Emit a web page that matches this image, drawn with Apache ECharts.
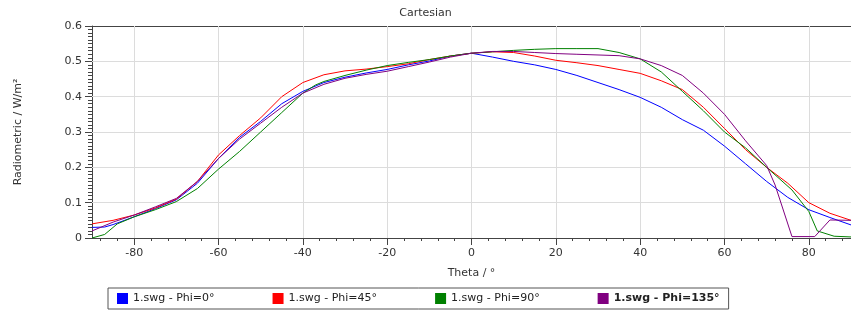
<!DOCTYPE html>
<html>
<head>
<meta charset="utf-8">
<script src="https://cdn.jsdelivr.net/npm/echarts@6/dist/echarts.min.js"></script>
<style>
  html, body { margin: 0; padding: 0; background: #fff; }
  #chart { width: 851px; height: 323px; }
</style>
</head>
<body>
<div id="chart"></div>
<script>
// values, [theta, radiometric]
const phi0 = [[-90,0.03],[-87,0.031],[-85,0.038],[-80,0.06],[-75,0.083],[-70,0.108],[-65,0.155],[-60,0.225],[-55,0.285],[-50,0.33],[-45,0.38],[-40,0.415],[-35,0.44],[-30,0.455],[-25,0.467],[-20,0.477],[-15,0.49],[-10,0.501],[-5,0.515],[0,0.523],[5,0.512],[10,0.5],[15,0.49],[20,0.477],[25,0.46],[30,0.44],[35,0.42],[40,0.398],[45,0.37],[50,0.335],[55,0.305],[60,0.26],[65,0.21],[70,0.16],[75,0.115],[80,0.08],[85,0.058],[90,0.037]];
const phi45 = [[-90,0.04],[-85,0.05],[-80,0.065],[-75,0.085],[-70,0.11],[-65,0.16],[-60,0.235],[-55,0.29],[-50,0.34],[-45,0.4],[-40,0.44],[-35,0.462],[-30,0.473],[-25,0.478],[-20,0.485],[-15,0.493],[-10,0.505],[-5,0.515],[0,0.523],[5,0.527],[10,0.525],[15,0.515],[20,0.503],[25,0.496],[30,0.488],[35,0.477],[40,0.466],[45,0.445],[50,0.42],[55,0.37],[60,0.31],[65,0.25],[70,0.2],[75,0.155],[80,0.1],[85,0.07],[90,0.05]];
const phi90 = [[-90,0],[-87,0.01],[-84,0.04],[-80,0.06],[-75,0.08],[-70,0.103],[-65,0.14],[-60,0.195],[-55,0.245],[-50,0.3],[-45,0.355],[-40,0.41],[-37,0.433],[-35,0.443],[-30,0.46],[-25,0.475],[-20,0.488],[-15,0.497],[-10,0.505],[-5,0.515],[0,0.523],[5,0.527],[10,0.531],[15,0.534],[20,0.536],[25,0.536],[30,0.536],[35,0.525],[40,0.507],[45,0.47],[50,0.415],[55,0.36],[60,0.3],[65,0.255],[70,0.2],[76,0.136],[80,0.075],[82,0.02],[86,0.005],[90,0.003]];
const phi135 = [[-90,0.02],[-85,0.045],[-80,0.065],[-75,0.088],[-70,0.112],[-65,0.16],[-60,0.225],[-55,0.28],[-50,0.325],[-45,0.37],[-40,0.41],[-35,0.435],[-30,0.452],[-25,0.463],[-20,0.472],[-15,0.485],[-10,0.498],[-5,0.512],[0,0.523],[5,0.528],[10,0.528],[15,0.525],[20,0.522],[25,0.52],[30,0.518],[35,0.516],[40,0.507],[45,0.488],[50,0.46],[55,0.41],[60,0.35],[65,0.275],[70,0.205],[72,0.15],[76,0.004],[81.4,0.004],[85,0.051],[90,0.05]];

const seriesNames = ['1.swg - Phi=0°', '1.swg - Phi=45°', '1.swg - Phi=90°', '1.swg - Phi=135°'];
const seriesColors = ['#0000ff', '#ff0000', '#008000', '#800080'];
const xTickLabels = [-80, -60, -40, -20, 0, 20, 40, 60, 80];
const yTickLabels = [0, 0.1, 0.2, 0.3, 0.4, 0.5, 0.6];

// minor ticks on theta, every 4 degrees between the labelled ones
const xMinor = [];
for (let v = -88; v <= 88; v += 4) {
  if (xTickLabels.indexOf(v) < 0) xMinor.push(v);
}

const font = 'DejaVu Sans';
const axisColor = '#444';
const gridColor = '#dcdcdc';
const plotW = 851 - 92, plotH = 323 - 26 - 85;

const chart = echarts.init(document.getElementById('chart'));
const option = {
  animation: false,
  title: {
    text: 'Cartesian',
    left: 'center',
    top: 3,
    textStyle: { fontFamily: font, fontSize: 11, fontWeight: 'normal', color: '#333' }
  },
  legend: {
    left: 108,
    top: 288,
    padding: [5, 9],
    itemGap: 58,
    itemWidth: 11,
    itemHeight: 11,
    icon: 'rect',
    borderColor: '#555',
    borderWidth: 1,
    textStyle: { fontFamily: font, fontSize: 11, color: '#222' },
    data: seriesNames.map((n, i) => i === 3 ? { name: n, textStyle: { fontWeight: 'bold' } } : { name: n })
  },
  grid: { left: 92, right: 0, top: 26, bottom: 85 },
  xAxis: [
    {
      type: 'value',
      min: -90,
      max: 90,
      name: 'Theta / °',
      nameLocation: 'middle',
      nameGap: 30,
      nameTextStyle: { fontFamily: font, fontSize: 11, color: '#333' },
      axisLine: { onZero: false, lineStyle: { color: axisColor } },
      axisTick: { customValues: xTickLabels, length: 7, lineStyle: { color: axisColor } },
      axisLabel: { customValues: xTickLabels, margin: 10, fontFamily: font, fontSize: 11, color: '#333' },
      splitLine: { show: false }
    },
    {
      // minor ticks
      type: 'value',
      min: -90,
      max: 90,
      position: 'bottom',
      axisLine: { show: false, onZero: false },
      axisTick: { customValues: xMinor, length: 3, lineStyle: { color: axisColor } },
      axisLabel: { show: false },
      splitLine: { show: false }
    },
    {
      // top frame line
      type: 'value',
      min: -90,
      max: 90,
      position: 'top',
      axisLine: { onZero: false, lineStyle: { color: axisColor } },
      axisTick: { show: false },
      axisLabel: { show: false },
      splitLine: { show: false }
    },
    {
      // vertical grid lines
      type: 'value',
      min: -90,
      max: 90,
      position: 'bottom',
      axisLine: { show: false, onZero: false },
      axisTick: { customValues: xTickLabels, inside: true, length: plotH, lineStyle: { color: gridColor } },
      axisLabel: { show: false },
      splitLine: { show: false }
    }
  ],
  yAxis: [
    {
      type: 'value',
      min: 0,
      max: 0.6,
      interval: 0.1,
      name: 'Radiometric / W/m²',
      nameLocation: 'middle',
      nameGap: 68,
      nameTextStyle: { fontFamily: font, fontSize: 11, color: '#333' },
      axisLine: { show: true, onZero: false, lineStyle: { color: axisColor } },
      axisTick: { show: true, length: 7, lineStyle: { color: axisColor } },
      minorTick: { show: true, splitNumber: 10, length: 4, lineStyle: { color: axisColor } },
      axisLabel: {
        margin: 10,
        fontFamily: font,
        fontSize: 11,
        color: '#333',
        formatter: v => yTickLabels.indexOf(+v.toFixed(1)) >= 0 ? String(+v.toFixed(1)) : ''
      },
      splitLine: { show: false }
    },
    {
      // horizontal grid lines
      type: 'value',
      min: 0,
      max: 0.6,
      interval: 0.1,
      position: 'left',
      axisLine: { show: false, onZero: false },
      axisTick: { customValues: yTickLabels.slice(1, -1), inside: true, length: plotW, lineStyle: { color: gridColor } },
      axisLabel: { show: false },
      splitLine: { show: false }
    }
  ],
  series: [phi0, phi45, phi90, phi135].map((d, i) => ({
    name: seriesNames[i],
    type: 'line',
    data: d,
    showSymbol: false,
    symbol: 'none',
    color: seriesColors[i],
    lineStyle: { width: 1, color: seriesColors[i] }
  }))
};
chart.setOption(option);
</script>
</body>
</html>
